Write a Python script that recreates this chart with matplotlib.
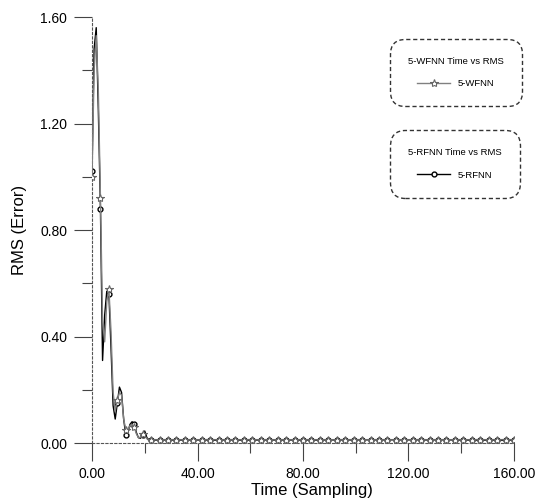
import numpy as np
import matplotlib
matplotlib.use("Agg")
import matplotlib.pyplot as plt
from matplotlib.ticker import MultipleLocator, FormatStrFormatter

plt.rcParams['font.family'] = ['Liberation Sans', 'DejaVu Sans']

# transient part, fine sampling
early_t = [0.0, 0.8, 1.6, 2.4, 3.2, 4.0, 4.8, 5.6, 6.4, 7.2, 8.0, 8.8, 9.6, 10.4,
           11.2, 12.0, 12.8, 13.6, 14.4, 15.2, 16.0, 16.8, 17.6, 18.4, 19.2, 20.0,
           20.8, 21.6, 22.4]
wfnn_early = [1.00, 1.40, 1.53, 1.32, 0.92, 0.46, 0.38, 0.53, 0.58, 0.42, 0.19, 0.12,
              0.16, 0.19, 0.18, 0.09, 0.05, 0.05, 0.065, 0.07, 0.06, 0.035, 0.02, 0.022,
              0.032, 0.028, 0.016, 0.012, 0.012]
rfnn_early = [1.02, 1.48, 1.56, 1.25, 0.88, 0.31, 0.48, 0.57, 0.56, 0.36, 0.14, 0.09,
              0.15, 0.21, 0.19, 0.09, 0.03, 0.04, 0.07, 0.08, 0.07, 0.04, 0.02, 0.018,
              0.03, 0.045, 0.02, 0.012, 0.010]

# steady part, one sample every 3.2
late_t = np.round(np.arange(25.6, 160.01, 3.2), 1)
wfnn_late = [0.012, 0.011, 0.013, 0.012, 0.011, 0.012, 0.013, 0.012, 0.011, 0.012,
             0.012, 0.013, 0.012, 0.011, 0.012, 0.012, 0.011, 0.013, 0.012, 0.012,
             0.011, 0.012, 0.012, 0.013, 0.012, 0.011, 0.012, 0.012, 0.012, 0.011,
             0.012, 0.013, 0.012, 0.012, 0.011, 0.013, 0.012, 0.012, 0.013, 0.012,
             0.012, 0.013, 0.012]
rfnn_late = [0.011, 0.010, 0.011, 0.011, 0.010, 0.011, 0.011, 0.010, 0.011, 0.011,
             0.010, 0.011, 0.011, 0.010, 0.011, 0.011, 0.010, 0.011, 0.011, 0.010,
             0.011, 0.011, 0.012, 0.011, 0.012, 0.012, 0.011, 0.012, 0.012, 0.011,
             0.012, 0.012, 0.011, 0.012, 0.012, 0.011, 0.011, 0.010, 0.010, 0.011,
             0.010, 0.010, 0.011]

t = np.concatenate([early_t, late_t])
wfnn = np.concatenate([wfnn_early, wfnn_late])
rfnn = np.concatenate([rfnn_early, rfnn_late])
# markers on the 3.2 grid only
marks = list(range(0, len(early_t), 4)) + list(range(len(early_t), len(t)))

fig = plt.figure(figsize=(5.39, 4.99), dpi=100)
ax = fig.add_axes([0.1707, 0.1122, 0.7829, 0.8537])

l1, = ax.plot(t, wfnn, color='#808080', lw=1.0, marker='*', ms=6, mfc='white',
              mec='#666666', mew=0.8, markevery=marks, label='5-WFNN', zorder=3)
l2, = ax.plot(t, rfnn, color='black', lw=1.0, marker='o', ms=3.5, mfc='white',
              mec='black', mew=1.0, markevery=marks, label='5-RFNN', zorder=2)

ax.set_xlim(0, 160)
ax.set_ylim(0, 1.6)
ax.xaxis.set_major_locator(MultipleLocator(40))
ax.xaxis.set_minor_locator(MultipleLocator(20))
ax.yaxis.set_major_locator(MultipleLocator(0.4))
ax.yaxis.set_minor_locator(MultipleLocator(0.2))
ax.xaxis.set_major_formatter(FormatStrFormatter('%.2f'))
ax.yaxis.set_major_formatter(FormatStrFormatter('%.2f'))
ax.tick_params(which='major', length=13, width=0.8, labelsize=10, color='#444444')
ax.tick_params(which='minor', length=7, width=0.8, color='#444444')
ax.tick_params(axis='x', pad=4)
ax.tick_params(axis='y', pad=5)

for s in ['top', 'right']:
    ax.spines[s].set_visible(False)
for s in ['left', 'bottom']:
    ax.spines[s].set_linestyle((0, (2, 2)))
    ax.spines[s].set_color('#555555')
    ax.spines[s].set_linewidth(0.8)

ax.set_xlabel('Time (Sampling)', fontsize=12)
ax.set_ylabel('RMS (Error)', fontsize=12)
ax.xaxis.set_label_coords(0.52, -0.095)
ax.yaxis.set_label_coords(-0.155, 0.5)

legend_kw = dict(loc='upper left', bbox_transform=fig.transFigure, fontsize=6.8,
                 title_fontsize=6.8, fancybox=True, borderpad=1.9, labelspacing=1.4,
                 handlelength=3.5, handletextpad=0.8, edgecolor='#333333',
                 framealpha=1)
leg1 = ax.legend([l1], ['5-WFNN'], title='5-WFNN Time vs RMS',
                 bbox_to_anchor=(0.715, 0.932), **legend_kw)
leg1.get_frame().set_linestyle((0, (3, 2)))
leg1.get_frame().set_boxstyle('round', pad=0, rounding_size=1.6)
ax.add_artist(leg1)
leg2 = ax.legend([l2], ['5-RFNN'], title='5-RFNN Time vs RMS',
                 bbox_to_anchor=(0.715, 0.748), **legend_kw)
leg2.get_frame().set_linestyle((0, (3, 2)))
leg2.get_frame().set_boxstyle('round', pad=0, rounding_size=1.6)

fig.savefig('out.png', dpi=100)
